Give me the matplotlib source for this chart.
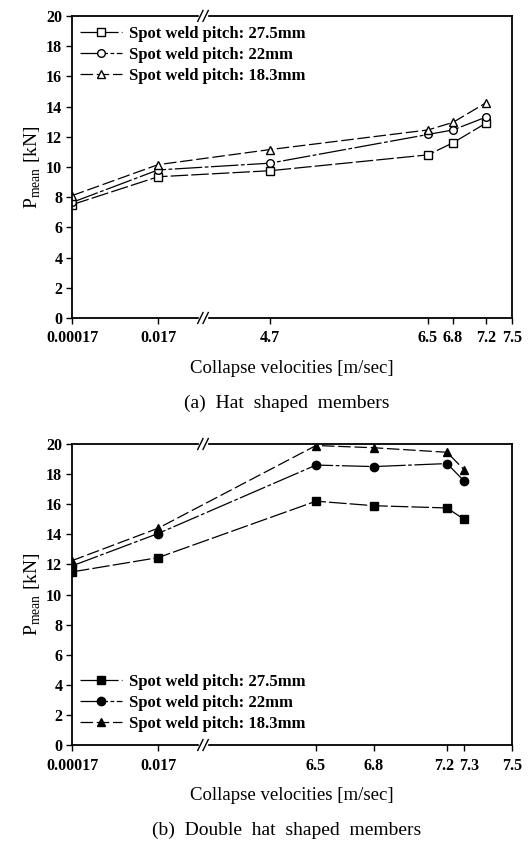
import matplotlib
matplotlib.use('Agg')
import matplotlib.pyplot as plt
import matplotlib.transforms as mtransforms
import numpy as np

plt.rcParams['font.family'] = ['Liberation Serif', 'DejaVu Serif']
plt.rcParams['mathtext.fontset'] = 'custom'
plt.rcParams['mathtext.rm'] = 'Liberation Serif'

# (a) hat shaped members
vel_a = [0.00017, 0.017, 4.7, 6.5, 6.8, 7.2]
hat_275 = [7.5, 9.35, 9.75, 10.8, 11.6, 12.9]
hat_22 = [7.65, 9.8, 10.25, 12.15, 12.45, 13.3]
hat_183 = [8.1, 10.15, 11.15, 12.45, 12.95, 14.25]
ticks_a = [0.00017, 0.017, 4.7, 6.5, 6.8, 7.2, 7.5]
ticklabels_a = ['0.00017', '0.017', '4.7', '6.5', '6.8', '7.2', '7.5']

# (b) double hat shaped members
vel_b = [0.00017, 0.017, 6.5, 6.8, 7.2, 7.3]
dhat_275 = [11.5, 12.45, 16.2, 15.9, 15.75, 15.0]
dhat_22 = [11.9, 14.05, 18.6, 18.5, 18.7, 17.55]
dhat_183 = [12.25, 14.4, 19.9, 19.75, 19.45, 18.3]
ticks_b = [0.00017, 0.017, 6.5, 6.8, 7.2, 7.3, 7.5]
ticklabels_b = ['0.00017', '0.017', '6.5', '6.8', '7.2', '7.3', '7.5']

labels = ['Spot weld pitch: 27.5mm', 'Spot weld pitch: 22mm', 'Spot weld pitch: 18.3mm']

# broken axis: where each tick sits along the axis (pixels from left spine)
pos_a = [0, 86, 198, 356, 381, 414, 440]
pos_b = [0, 86, 244, 302, 375, 392, 440]

styles = [(0, (14, 2.5)), (0, (22, 2, 3, 2)), (0, (10, 3))]
markers = ['s', 'o', '^']

fig = plt.figure(figsize=(5.31, 8.47), dpi=100)


def make_panel(rect, vel, series, ticks, ticklabels, pos, filled, legend_anchor, caption, cap_y):
    ax = fig.add_axes(rect)
    fwd = lambda x: np.interp(x, ticks, pos)
    inv = lambda p: np.interp(p, pos, ticks)
    ax.set_xscale('function', functions=(fwd, inv))
    for vals, ls, mk, lab in zip(series, styles, markers, labels):
        ax.plot(vel, vals, color='black', lw=0.9, linestyle=ls, marker=mk,
                markersize=6 if filled else 5.5,
                markerfacecolor='black' if filled else 'white',
                markeredgecolor='black', markeredgewidth=1.0, label=lab)
    ax.set_xlim(ticks[0], ticks[-1])
    ax.set_ylim(0, 20)
    ax.set_yticks(range(0, 21, 2))
    ax.set_xticks(ticks)
    ax.set_xticklabels(ticklabels)
    ax.minorticks_off()
    ax.tick_params(axis='both', direction='out', length=4, width=1.0, labelsize=11.5)
    ax.tick_params(axis='x', pad=5)
    ax.tick_params(axis='y', pad=3)
    for t in ax.get_xticklabels() + ax.get_yticklabels():
        t.set_fontweight('bold')
    # nudge crowded labels apart (7.2 / 7.3)
    if '7.3' in ticklabels:
        for t in ax.get_xticklabels():
            if t.get_text() == '7.3':
                t.set_transform(t.get_transform() + mtransforms.ScaledTranslation(5 / 100, 0, fig.dpi_scale_trans))
            if t.get_text() == '7.2':
                t.set_transform(t.get_transform() + mtransforms.ScaledTranslation(-3 / 100, 0, fig.dpi_scale_trans))
    for sp in ax.spines.values():
        sp.set_linewidth(1.3)
    ax.set_ylabel(r'P$_{\mathregular{mean}}$ [kN]', fontsize=14, labelpad=2)
    ax.set_xlabel('Collapse velocities [m/sec]', fontsize=13.5, labelpad=10)
    ax.legend(loc='upper left', bbox_to_anchor=legend_anchor, frameon=False,
              handlelength=2.5, handletextpad=0.4, labelspacing=0.3,
              borderaxespad=0.1, prop={'size': 12, 'weight': 'bold'})
    # axis break marks on top and bottom spines
    bx = 131 / 440
    for yb in (0, 1):
        ax.add_patch(plt.Rectangle((bx - 0.008, yb - 0.006), 0.016, 0.012,
                                   transform=ax.transAxes, color='white',
                                   clip_on=False, zorder=5))
        for dx in (-0.006, 0.006):
            ax.plot([bx + dx - 0.006, bx + dx + 0.006], [yb - 0.018, yb + 0.018],
                    transform=ax.transAxes, color='black', lw=1.0,
                    clip_on=False, zorder=6)
    fig.text(0.54, cap_y, caption, ha='center', va='center', fontsize=14)
    return ax


make_panel([0.1356, 0.6246, 0.8286, 0.3566], vel_a, [hat_275, hat_22, hat_183],
           ticks_a, ticklabels_a, pos_a, False, (0.0, 0.995),
           '(a)  Hat  shaped  members', 1 - 403 / 847)
make_panel([0.1356, 0.1204, 0.8286, 0.3554], vel_b, [dhat_275, dhat_22, dhat_183],
           ticks_b, ticklabels_b, pos_b, True, (0.0, 0.265),
           '(b)  Double  hat  shaped  members', 1 - 830 / 847)

fig.savefig('out.png', dpi=100)
